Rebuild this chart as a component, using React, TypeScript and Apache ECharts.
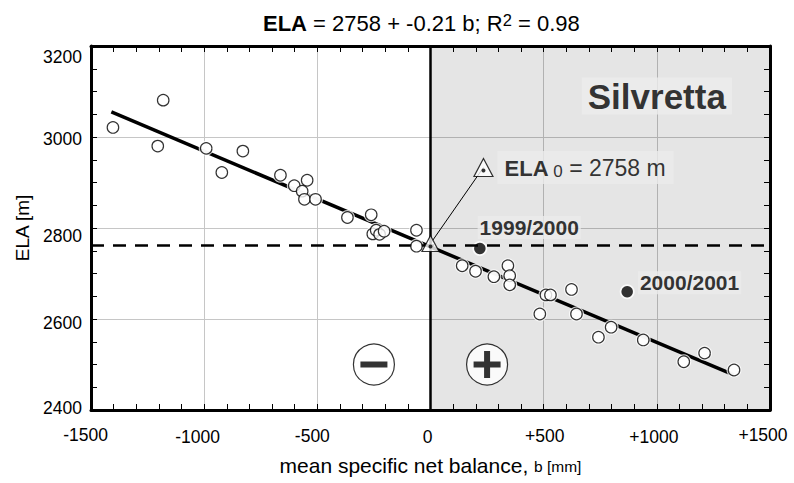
import React, { useEffect, useRef } from "react";
import * as echarts from "echarts";

// ---- data ----
const xTickValues = [-1500, -1000, -500, 0, 500, 1000, 1500];
const xTickLabels = ["-1500", "-1000", "-500", "0", "+500", "+1000", "+1500"];
const yTickValues = [2400, 2600, 2800, 3000, 3200];
const yTickLabels = ["2400", "2600", "2800", "3000", "3200"];

const balanceObs = [
  -1403, -1181, -1205, -991, -829, -922, -663, -602, -545, -567, -557, -508, -367, -262,
  -255, -240, -225, -205, -62, -62,
  140, 199, 280, 342, 350, 350, 510, 530, 623, 483, 645, 798, 742, 940, 1119, 1211, 1341,
];
const elaObs = [
  3021, 3081, 2980, 2975, 2969, 2922, 2916, 2893, 2905, 2881, 2863, 2863, 2823, 2829,
  2787, 2795, 2786, 2793, 2795, 2760,
  2717, 2705, 2693, 2717, 2695, 2675, 2653, 2653, 2665, 2611, 2611, 2582, 2560, 2554, 2506, 2525, 2488,
];
const highlightB = [218, 869];
const highlightELA = [2755, 2660];
const highlightNames = ["1999/2000", "2000/2001"];

const fitB = [-1410, 1340];
const fitELA = [3055, 2477];

const ela0Value = 2758;
const ela0Line = 2762;
const ela0Marker = [0, 2766];
const ela0Callout = [234, 2933];

const signB = [-250, 250];
const signELA = [2500, 2500];

const FONT = "'Liberation Sans', Arial, sans-serif";

// label nudges (style only)
const xLabelNudge = [
  [-5.5, 0], [-6.5, 4], [-5, 1.5], [-3, 4], [1, 1], [-3, 4], [-7, 0],
];
const yLabelNudge: Record<string, number> = { "2400": -2, "2600": 4, "2800": 8, "3000": 2, "3200": 11 };

export default function App() {
  const ref = useRef<HTMLDivElement>(null);
  useEffect(() => {
    if (!ref.current) return;
    const chart = echarts.init(ref.current, null, { renderer: "svg" });

    const xRich: any = {};
    xTickLabels.forEach((_, i) => {
      const [dx, dy] = xLabelNudge[i];
      xRich["x" + i] = {
        fontSize: 17.5, fontFamily: FONT, color: "#000", lineHeight: 20,
        padding: [dy, dx < 0 ? -2 * dx : 0, 0, dx > 0 ? 2 * dx : 0],
      };
    });
    const yRich: any = {};
    yTickLabels.forEach((l, i) => {
      const dy = yLabelNudge[l];
      yRich["y" + i] = {
        fontSize: 17.5, fontFamily: FONT, color: "#000", lineHeight: 20,
        padding: [dy > 0 ? 2 * dy : 0, 0, dy < 0 ? -2 * dy : 0, 0],
      };
    });

    const obs = balanceObs.map((b, i) => [b, elaObs[i]]);
    const hi = highlightB.map((b, i) => [b, highlightELA[i]]);

    const axisCommon = {
      type: "value" as const,
      axisLine: { show: true, onZero: false, lineStyle: { color: "#000", width: 3 } },
      axisTick: { show: true, inside: true, length: 6, lineStyle: { color: "#000", width: 1 } },
    };

    const option: any = {
      animation: false,
      title: {
        text: "{b|ELA}{n| = 2758 + -0.21 b; R}{s|2}{n| = 0.98}",
        left: 258,
        top: 6,
        textStyle: {
          fontWeight: "normal",
          rich: {
            b: { fontSize: 22, fontWeight: "bold", fontFamily: FONT, color: "#000" },
            n: { fontSize: 22, fontWeight: "normal", fontFamily: FONT, color: "#000" },
            s: { fontSize: 16.5, fontWeight: "normal", fontFamily: FONT, color: "#000", verticalAlign: "top", padding: [0, 0, 7, 0] },
          },
        },
      },
      grid: { left: 91, right: 24, top: 46, bottom: 73, containLabel: false, outerBoundsMode: "none" },
      xAxis: [
        {
          ...axisCommon,
          position: "bottom",
          min: -1500, max: 1500, interval: 500,
          minorTick: { show: true, splitNumber: 5, length: 6, lineStyle: { color: "#000", width: 1 } },
          splitLine: { show: true, lineStyle: { color: "#c6c6c6", width: 1 } },
          axisLabel: {
            margin: 15,
            hideOverlap: false,
            formatter: (v: number) => {
              const i = xTickValues.indexOf(v);
              return i < 0 ? "" : `{x${i}|${xTickLabels[i]}}`;
            },
            rich: xRich,
          },
          name: "{a|mean specific net balance, }{c|b [mm]}",
          nameLocation: "middle",
          nameGap: 42,
          nameTextStyle: {
            rich: {
              a: { fontSize: 21, fontFamily: FONT, color: "#000", verticalAlign: "bottom", lineHeight: 24 },
              c: { fontSize: 15.5, fontFamily: FONT, color: "#000", verticalAlign: "bottom", lineHeight: 20, padding: [0, 0, 2, 0] },
            },
          },
        },
        {
          ...axisCommon,
          position: "top",
          min: -1500, max: 1500, interval: 500,
          minorTick: { show: true, splitNumber: 5, length: 6, lineStyle: { color: "#000", width: 1 } },
          splitLine: { show: false },
          axisLabel: { show: false },
        },
      ],
      yAxis: [
        {
          ...axisCommon,
          position: "left",
          min: 2400, max: 3200, interval: 200,
          minorTick: { show: true, splitNumber: 4, length: 6, lineStyle: { color: "#000", width: 1 } },
          splitLine: { show: true, lineStyle: { color: "#c6c6c6", width: 1 } },
          axisLabel: {
            margin: 9,
            formatter: (v: number) => {
              const i = yTickValues.indexOf(v);
              return i < 0 ? "" : `{y${i}|${yTickLabels[i]}}`;
            },
            rich: yRich,
          },
          name: "ELA [m]",
          nameLocation: "middle",
          nameGap: 57,
          nameTextStyle: { fontSize: 19, fontFamily: FONT, color: "#000" },
        },
        {
          ...axisCommon,
          position: "right",
          min: 2400, max: 3200, interval: 200,
          minorTick: { show: true, splitNumber: 4, length: 6, lineStyle: { color: "#000", width: 1 } },
          splitLine: { show: false },
          axisLabel: { show: false },
        },
      ],
      series: [
        {
          type: "line",
          z: 1,
          silent: true,
          data: [ela0Marker],
          showSymbol: false,
          lineStyle: { opacity: 0 },
          markArea: {
            silent: true,
            itemStyle: { color: "rgba(0,0,0,0.1)" },
            data: [[{ xAxis: 0, yAxis: 2400 }, { xAxis: 1500, yAxis: 3200 }]],
          },
          markLine: {
            silent: true,
            symbol: "none",
            label: { show: false },
            data: [
              { yAxis: ela0Line, lineStyle: { color: "#000", width: 2.5, type: [13, 9] } },
              { xAxis: 0, lineStyle: { color: "#000", width: 2.5, type: "solid" } },
            ],
          },
        },
        {
          type: "line",
          z: 2,
          silent: true,
          data: fitB.map((b, i) => [b, fitELA[i]]),
          showSymbol: false,
          symbol: "none",
          lineStyle: { color: "#000", width: 3.5 },
        },
        {
          type: "line",
          z: 3,
          silent: true,
          data: [ela0Marker, ela0Callout],
          showSymbol: false,
          symbol: "none",
          lineStyle: { color: "#000", width: 1 },
        },
        {
          type: "scatter",
          z: 4,
          silent: true,
          data: [...obs, ...hi],
          symbolSize: 15,
          itemStyle: { color: "#fff" },
        },
        {
          type: "scatter",
          z: 5,
          silent: true,
          data: obs,
          symbolSize: 11.5,
          itemStyle: { color: "#fff", borderColor: "#000", borderWidth: 1.2 },
        },
        {
          type: "scatter",
          z: 5,
          silent: true,
          data: hi.map((p, i) => ({ value: p, name: highlightNames[i] })),
          symbolSize: 11.5,
          itemStyle: { color: "#000" },
          label: {
            show: true,
            position: "right",
            distance: 0,
            formatter: (p: any) => p.name,
            fontSize: 21,
            fontWeight: "bold",
            fontFamily: FONT,
            color: "#000",
            backgroundColor: "#ebebeb",
            padding: [1, 2],
          },
          labelLayout: (p: any) => {
            return p.dataIndex === 0 ? { dx: -8, dy: -21 } : { dx: 5, dy: -9 };
          },
        },
        {
          type: "scatter",
          z: 6,
          silent: true,
          symbol: "triangle",
          data: [
            { value: ela0Marker, symbolSize: [17, 16] },
            {
              value: ela0Callout,
              symbolSize: [19, 18],
              label: {
                show: true,
                position: "right",
                distance: 4,
                formatter: `{b|ELA}{s| 0}{n| = ${ela0Value} m}`,
                backgroundColor: "#ebebeb",
                padding: [4, 8, 4, 7],
                rich: {
                  b: { fontSize: 22, fontWeight: "bold", fontFamily: FONT, color: "#000", verticalAlign: "bottom", lineHeight: 25 },
                  s: { fontSize: 17, fontFamily: FONT, color: "#000", verticalAlign: "bottom", lineHeight: 17 },
                  n: { fontSize: 23, fontFamily: FONT, color: "#000", verticalAlign: "bottom", lineHeight: 25 },
                },
              },
            },
          ],
          itemStyle: { color: "#fff", borderColor: "#000", borderWidth: 1.2 },
        },
        {
          type: "scatter",
          z: 7,
          silent: true,
          data: [ela0Marker, ela0Callout],
          symbolSize: 4,
          symbolOffset: [0, 3],
          itemStyle: { color: "#000" },
        },
        {
          type: "scatter",
          z: 6,
          silent: true,
          data: signB.map((b, i) => [b, signELA[i]]),
          symbolSize: 41,
          itemStyle: { color: "#fff", borderColor: "#000", borderWidth: 1.2 },
        },
        {
          type: "scatter",
          z: 7,
          silent: true,
          data: [
            { value: [signB[0], signELA[0]], symbol: "rect", symbolSize: [27, 6] },
            {
              value: [signB[1], signELA[1]],
              symbol: "path://M0,10.5 H10.5 V0 H16.5 V10.5 H27 V16.5 H16.5 V27 H10.5 V16.5 H0 Z",
              symbolSize: [27, 27],
            },
          ],
          itemStyle: { color: "#000" },
        },
        {
          type: "scatter",
          z: 8,
          silent: true,
          data: [[1000, 3090]],
          symbolSize: 1,
          itemStyle: { color: "transparent" },
          label: {
            show: true,
            position: "inside",
            formatter: "Silvretta",
            fontSize: 35,
            fontWeight: "bold",
            fontFamily: FONT,
            color: "#000",
            backgroundColor: "#ececec",
            lineHeight: 37,
            padding: [0, 6],
          },
        },
      ],
    };
    chart.setOption(option);
    return () => chart.dispose();
  }, []);
  return (
    <div
      ref={ref}
      style={{ position: "fixed", left: 0, top: 0, width: 794, height: 483, background: "#fff" }}
    />
  );
}
